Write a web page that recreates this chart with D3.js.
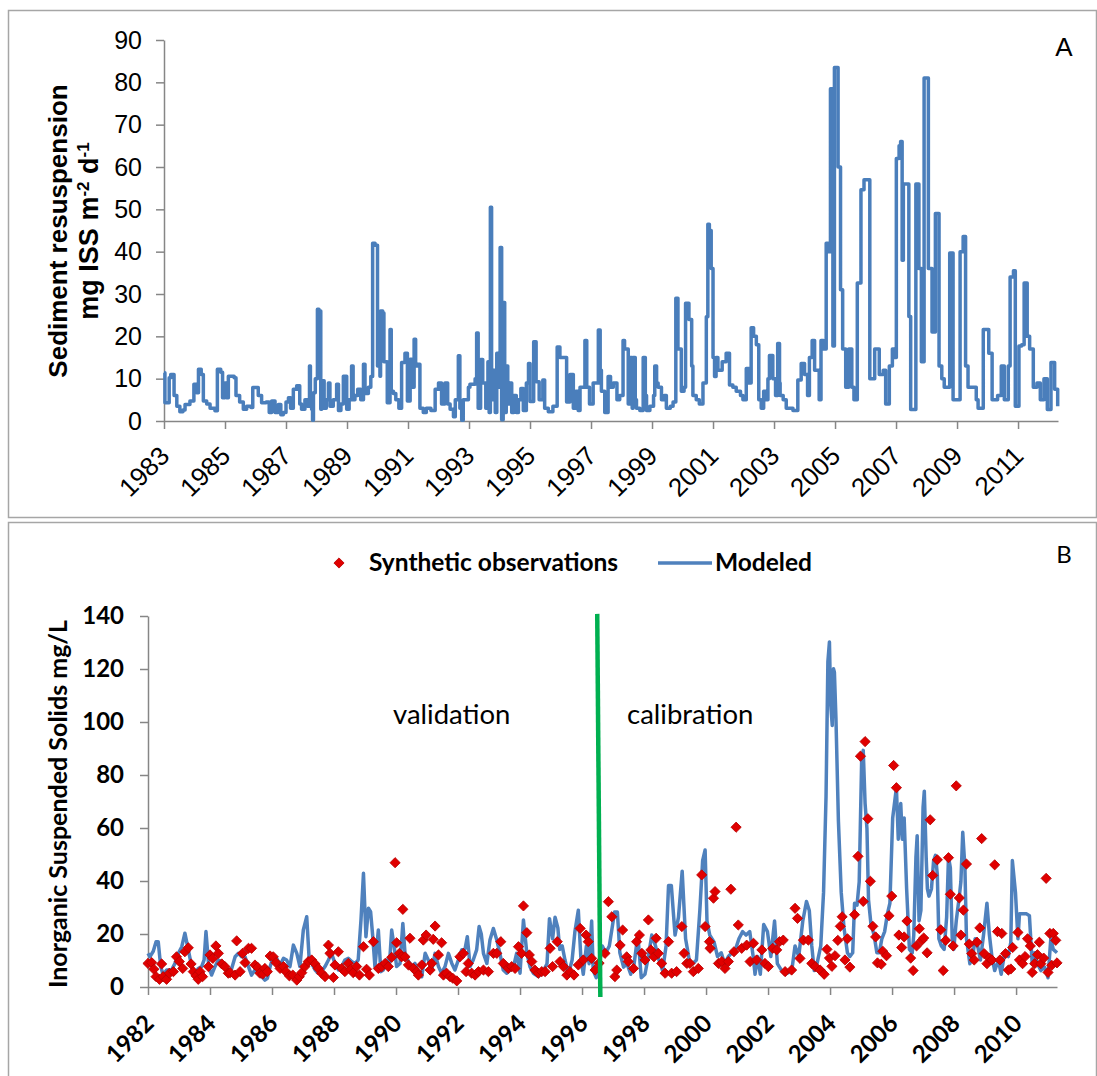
<!DOCTYPE html>
<html>
<head>
<meta charset="utf-8">
<script src="https://cdnjs.cloudflare.com/ajax/libs/d3/7.8.5/d3.min.js"></script>
<style>
  body { margin: 0; background: #fff; }
  svg { display: block; }
</style>
</head>
<body>
<svg id="chart" width="1097" height="1076"></svg>
<script>
// ---- panel A : sediment resuspension (step series, [year, value])
var resuspension = [
  [1983.00,11.4],[1983.03,4.3],[1983.17,10.2],[1983.22,11.0],[1983.33,6.0],[1983.42,3.5],[1983.52,2.2],[1983.62,2.6],
  [1983.69,3.9],[1983.85,4.7],[1983.98,8.7],[1984.07,6.7],[1984.13,12.2],[1984.22,11.0],[1984.29,4.7],[1984.40,4.0],
  [1984.51,3.0],[1984.67,2.4],[1984.75,12.2],[1984.86,11.5],[1984.92,5.5],[1985.00,9.0],[1985.05,5.5],[1985.11,10.6],
  [1985.30,10.2],[1985.36,6.0],[1985.48,4.5],[1985.60,2.8],[1985.71,3.5],[1985.85,3.2],[1985.91,7.9],[1986.09,6.0],
  [1986.20,4.3],[1986.35,4.5],[1986.45,2.0],[1986.53,4.7],[1986.64,2.0],[1986.75,3.9],[1986.83,1.5],[1986.91,2.0],
  [1987.00,4.5],[1987.08,5.5],[1987.15,3.0],[1987.24,7.5],[1987.35,8.3],[1987.45,4.0],[1987.51,2.8],[1987.62,5.0],
  [1987.70,3.5],[1987.77,13.0],[1987.80,6.0],[1987.84,2.8],[1987.87,0.2],[1987.90,6.7],[1987.96,10.0],[1988.03,26.4],
  [1988.08,26.0],[1988.14,2.8],[1988.17,9.5],[1988.25,3.0],[1988.32,5.0],[1988.39,9.0],[1988.44,3.5],[1988.55,5.0],
  [1988.66,8.7],[1988.72,2.5],[1988.80,4.0],[1988.88,10.6],[1988.99,2.8],[1989.07,5.0],[1989.15,13.0],[1989.20,5.0],
  [1989.26,6.0],[1989.35,7.5],[1989.45,5.0],[1989.54,13.4],[1989.59,6.5],[1989.70,8.0],[1989.78,10.5],[1989.84,42.0],
  [1989.92,41.5],[1990.00,13.0],[1990.08,10.6],[1990.10,26.0],[1990.17,25.5],[1990.21,14.0],[1990.32,4.3],[1990.41,21.6],
  [1990.45,7.0],[1990.52,6.5],[1990.60,5.0],[1990.70,3.0],[1990.79,13.8],[1990.90,16.0],[1990.98,4.7],[1991.07,14.6],
  [1991.13,8.0],[1991.20,19.3],[1991.25,13.0],[1991.31,13.4],[1991.39,3.0],[1991.50,2.0],[1991.60,3.0],[1991.75,2.5],
  [1991.89,7.5],[1992.00,9.0],[1992.10,4.0],[1992.21,9.0],[1992.30,4.0],[1992.38,2.8],[1992.49,1.0],[1992.55,5.0],
  [1992.65,15.4],[1992.70,3.0],[1992.76,0.2],[1992.81,5.0],[1992.98,8.0],[1993.03,8.7],[1993.20,10.0],[1993.25,20.8],
  [1993.30,3.0],[1993.38,14.5],[1993.45,9.0],[1993.55,3.0],[1993.62,14.0],[1993.66,2.0],[1993.70,50.5],[1993.74,5.0],
  [1993.80,12.0],[1993.86,2.0],[1993.91,16.0],[1993.96,8.0],[1994.02,41.0],[1994.07,0.3],[1994.12,28.0],[1994.17,2.0],
  [1994.22,13.0],[1994.27,4.0],[1994.33,9.0],[1994.40,2.0],[1994.47,6.0],[1994.55,2.0],[1994.62,5.0],[1994.70,7.7],
  [1994.78,2.5],[1994.88,9.0],[1994.95,13.6],[1995.00,4.6],[1995.12,18.7],[1995.20,9.3],[1995.30,5.0],[1995.42,9.7],
  [1995.48,3.0],[1995.60,2.2],[1995.75,3.5],[1995.89,17.5],[1995.98,15.0],[1996.20,4.5],[1996.31,11.0],[1996.42,3.0],
  [1996.50,7.0],[1996.58,2.5],[1996.64,8.0],[1996.80,19.0],[1996.86,8.0],[1996.95,4.0],[1997.07,9.0],[1997.24,21.5],
  [1997.30,12.0],[1997.34,7.0],[1997.45,2.0],[1997.56,10.5],[1997.64,8.0],[1997.73,9.0],[1997.85,5.0],[1997.94,6.0],
  [1998.05,19.0],[1998.10,17.0],[1998.22,4.0],[1998.27,15.0],[1998.35,3.0],[1998.38,15.0],[1998.45,5.0],[1998.49,3.0],
  [1998.60,2.5],[1998.71,15.0],[1998.78,6.0],[1998.82,2.5],[1998.93,3.5],[1999.05,6.0],[1999.09,13.0],[1999.15,9.0],
  [1999.20,8.0],[1999.31,5.0],[1999.40,6.0],[1999.47,3.0],[1999.60,3.5],[1999.69,4.5],[1999.78,29.0],[1999.85,17.0],
  [1999.96,7.0],[2000.05,8.0],[2000.10,27.8],[2000.21,24.0],[2000.30,13.0],[2000.34,6.0],[2000.45,5.0],[2000.55,4.0],
  [2000.67,9.0],[2000.78,24.6],[2000.83,46.5],[2000.88,45.0],[2000.94,36.0],[2001.00,15.0],[2001.05,10.5],[2001.10,15.0],
  [2001.16,12.0],[2001.30,14.0],[2001.43,16.0],[2001.54,8.5],[2001.65,8.0],[2001.76,7.0],[2001.90,6.0],[2001.98,5.0],
  [2002.09,12.4],[2002.18,9.0],[2002.25,22.0],[2002.33,20.0],[2002.42,18.0],[2002.50,5.0],[2002.58,3.0],[2002.66,7.0],
  [2002.74,5.0],[2002.80,10.0],[2002.85,15.5],[2002.96,10.0],[2003.05,6.0],[2003.12,18.3],[2003.18,9.0],[2003.20,6.0],
  [2003.30,5.0],[2003.40,3.0],[2003.62,2.5],[2003.78,9.7],[2003.89,13.6],[2004.00,11.0],[2004.10,6.0],[2004.16,15.0],
  [2004.25,19.0],[2004.33,12.0],[2004.48,5.0],[2004.54,19.0],[2004.62,17.0],[2004.71,42.0],[2004.78,40.0],[2004.85,78.5],
  [2004.93,17.7],[2004.98,83.5],[2005.10,60.0],[2005.18,31.0],[2005.25,17.0],[2005.35,8.0],[2005.45,17.0],[2005.55,8.0],
  [2005.62,5.0],[2005.73,32.6],[2005.85,54.6],[2005.95,57.0],[2006.14,10.0],[2006.30,17.0],[2006.45,11.0],[2006.58,12.0],
  [2006.66,4.0],[2006.78,13.0],[2006.88,17.0],[2006.95,15.0],[2007.01,62.0],[2007.10,65.0],[2007.15,66.0],[2007.20,38.0],
  [2007.24,56.0],[2007.42,24.7],[2007.48,2.7],[2007.54,2.7],[2007.65,56.0],[2007.75,36.0],[2007.83,14.0],[2007.92,81.0],
  [2008.06,36.0],[2008.18,21.0],[2008.29,49.0],[2008.41,13.0],[2008.50,10.0],[2008.58,8.0],[2008.76,39.7],[2008.87,5.0],
  [2009.05,5.0],[2009.10,40.0],[2009.20,43.6],[2009.28,13.0],[2009.36,8.0],[2009.45,8.0],[2009.63,5.0],[2009.69,3.0],
  [2009.86,21.6],[2010.04,16.0],[2010.15,5.0],[2010.33,6.0],[2010.45,13.0],[2010.55,5.0],[2010.68,13.0],[2010.74,34.0],
  [2010.85,35.5],[2010.91,3.5],[2011.03,17.7],[2011.12,18.0],[2011.20,32.6],[2011.30,20.0],[2011.38,17.0],[2011.50,8.0],
  [2011.62,9.0],[2011.73,5.0],[2011.85,10.0],[2011.96,2.7],[2012.08,13.8],[2012.20,7.5],[2012.30,3.5]
];
var yearsA = [1983,1985,1987,1989,1991,1993,1995,1997,1999,2001,2003,2005,2007,2009,2011];
var ticksA = [0,10,20,30,40,50,60,70,80,90];

// ---- panel B : modeled ISS ([year, value])
var modeled = [
  [1982.00,12.7],[1982.06,11.4],[1982.17,13.5],[1982.26,17.1],[1982.33,17.1],[1982.41,7.7],[1982.49,4.5],[1982.60,6.4],
  [1982.76,6.4],[1982.87,8.9],[1982.98,12.7],[1983.09,15.2],[1983.19,20.3],[1983.30,14.0],[1983.41,7.7],[1983.52,5.2],
  [1983.62,7.0],[1983.73,7.7],[1983.81,10.2],[1983.87,20.9],[1983.96,7.7],[1984.05,4.5],[1984.16,7.7],[1984.27,10.2],
  [1984.38,9.6],[1984.48,7.7],[1984.59,6.4],[1984.70,7.0],[1984.81,11.4],[1984.91,12.7],[1985.02,11.4],[1985.13,11.4],
  [1985.24,7.7],[1985.34,4.5],[1985.45,6.4],[1985.56,5.8],[1985.67,3.9],[1985.77,2.6],[1985.85,3.3],[1985.94,7.7],
  [1986.04,11.4],[1986.15,10.8],[1986.26,8.3],[1986.37,10.8],[1986.47,10.2],[1986.58,7.7],[1986.69,15.8],[1986.80,12.7],
  [1986.90,7.7],[1987.01,21.5],[1987.12,26.5],[1987.20,10.2],[1987.28,8.9],[1987.39,6.4],[1987.49,5.2],[1987.60,5.8],
  [1987.71,7.7],[1987.82,10.2],[1987.92,12.7],[1988.03,8.9],[1988.14,6.4],[1988.25,7.7],[1988.35,10.2],[1988.46,10.8],
  [1988.57,9.6],[1988.68,8.9],[1988.78,10.2],[1988.87,25.3],[1988.95,42.9],[1989.03,19.0],[1989.11,29.7],[1989.18,28.4],
  [1989.25,19.0],[1989.32,7.7],[1989.43,21.5],[1989.51,5.8],[1989.59,6.4],[1989.70,10.2],[1989.78,7.0],[1989.86,21.5],
  [1989.94,15.2],[1990.02,7.7],[1990.13,8.9],[1990.22,24.0],[1990.29,12.7],[1990.40,9.6],[1990.51,7.7],[1990.61,8.9],
  [1990.72,5.2],[1990.83,3.9],[1990.94,12.7],[1991.04,10.2],[1991.15,6.4],[1991.26,12.7],[1991.37,7.7],[1991.47,5.2],
  [1991.58,7.7],[1991.69,12.7],[1991.80,8.9],[1991.90,6.4],[1992.01,10.2],[1992.12,14.0],[1992.23,14.6],[1992.30,19.0],
  [1992.39,7.7],[1992.49,10.2],[1992.60,14.0],[1992.68,22.8],[1992.75,20.0],[1992.82,12.7],[1992.93,8.9],[1993.03,17.7],
  [1993.14,22.1],[1993.25,17.7],[1993.35,12.7],[1993.46,6.4],[1993.57,5.2],[1993.68,6.4],[1993.79,7.7],[1993.89,12.7],
  [1994.00,5.2],[1994.11,25.3],[1994.22,12.7],[1994.32,7.7],[1994.43,5.2],[1994.59,3.9],[1994.76,6.2],[1994.87,8.8],
  [1994.95,25.8],[1995.05,18.2],[1995.13,26.3],[1995.22,22.3],[1995.28,14.2],[1995.36,15.5],[1995.45,10.2],[1995.56,4.8],
  [1995.68,10.2],[1995.77,20.9],[1995.88,29.0],[1995.96,11.5],[1996.04,4.8],[1996.14,15.5],[1996.23,8.8],[1996.31,24.9],
  [1996.36,6.2],[1996.46,3.5],[1996.54,7.5],[1996.65,15.5],[1996.77,12.9],[1996.88,15.5],[1997.05,28.3],[1997.14,28.3],
  [1997.22,12.9],[1997.34,7.5],[1997.45,8.8],[1997.57,4.8],[1997.68,8.8],[1997.80,19.6],[1997.91,3.5],[1998.03,4.8],
  [1998.14,11.5],[1998.25,19.6],[1998.37,15.5],[1998.48,10.2],[1998.60,6.2],[1998.71,15.5],[1998.79,38.3],[1998.88,38.3],
  [1999.00,19.6],[1999.11,26.3],[1999.23,43.7],[1999.34,18.2],[1999.46,10.2],[1999.57,8.8],[1999.69,10.2],[1999.80,28.9],
  [1999.89,47.7],[1999.97,51.7],[2000.03,24.9],[2000.12,19.6],[2000.26,16.9],[2000.37,11.5],[2000.49,12.9],[2000.60,8.8],
  [2000.72,11.5],[2000.83,12.9],[2000.95,14.2],[2001.06,18.2],[2001.18,20.9],[2001.29,19.6],[2001.41,20.9],[2001.52,11.5],
  [2001.58,4.8],[2001.66,11.5],[2001.75,4.8],[2001.86,23.6],[2001.98,20.9],[2002.09,11.5],[2002.21,24.9],[2002.30,8.8],
  [2002.44,6.2],[2002.55,4.8],[2002.67,5.5],[2002.78,7.5],[2002.87,15.5],[2002.99,11.5],[2003.12,24.9],[2003.24,32.3],
  [2003.33,28.9],[2003.41,15.5],[2003.49,6.2],[2003.58,8.8],[2003.70,15.5],[2003.79,35.7],[2003.87,71.8],[2003.93,122.8],
  [2003.98,130.2],[2004.02,106.7],[2004.07,98.7],[2004.11,120.1],[2004.14,118.8],[2004.19,101.3],[2004.27,62.5],[2004.36,35.7],
  [2004.45,22.3],[2004.56,12.9],[2004.64,11.5],[2004.73,12.9],[2004.79,31.6],[2004.87,30.9],[2004.94,39.7],[2005.02,86.0],
  [2005.07,89.3],[2005.13,69.2],[2005.19,59.8],[2005.24,33.0],[2005.32,23.6],[2005.42,19.6],[2005.51,12.9],[2005.59,12.9],
  [2005.67,18.2],[2005.76,20.9],[2005.85,27.6],[2005.93,31.6],[2006.02,63.8],[2006.14,75.2],[2006.20,55.8],[2006.28,69.2],
  [2006.33,55.8],[2006.39,63.8],[2006.47,37.0],[2006.56,14.2],[2006.65,12.9],[2006.70,19.6],[2006.77,49.0],[2006.81,57.1],
  [2006.87,25.0],[2006.93,28.9],[2007.00,67.8],[2007.04,73.9],[2007.10,49.0],[2007.14,37.0],[2007.19,34.3],[2007.27,37.0],
  [2007.34,47.7],[2007.40,49.7],[2007.46,42.4],[2007.51,18.2],[2007.59,15.5],[2007.68,14.2],[2007.76,26.3],[2007.82,49.0],
  [2007.88,45.0],[2007.94,18.2],[2007.99,14.2],[2008.07,24.9],[2008.17,34.3],[2008.22,39.7],[2008.28,58.4],[2008.35,45.0],
  [2008.40,18.2],[2008.51,8.8],[2008.60,11.5],[2008.68,18.2],[2008.76,15.5],[2008.85,10.2],[2008.95,19.6],[2009.06,31.6],
  [2009.14,19.6],[2009.22,11.5],[2009.31,6.2],[2009.43,10.2],[2009.52,4.8],[2009.63,12.9],[2009.75,11.5],[2009.83,16.9],
  [2009.88,47.7],[2009.98,35.7],[2010.06,18.2],[2010.11,27.6],[2010.23,27.6],[2010.34,27.6],[2010.43,26.9],[2010.52,8.8],
  [2010.60,12.9],[2010.69,8.8],[2010.80,6.2],[2010.92,7.5],[2011.03,3.5],[2011.12,18.2],[2011.20,14.2],[2011.32,12.9]
];

// ---- panel B : synthetic observations ([year, value])
var observations = [
  [1982.00,8.9],[1982.12,9.2],[1982.19,6.7],[1982.26,3.9],[1982.37,2.9],[1982.44,8.7],[1982.49,3.9],[1982.60,2.9],
  [1982.69,5.2],[1982.82,5.8],[1982.92,11.4],[1983.01,9.6],[1983.12,7.0],[1983.19,13.3],[1983.30,14.8],[1983.39,8.7],
  [1983.46,5.8],[1983.55,4.2],[1983.62,2.9],[1983.68,5.8],[1983.76,3.9],[1983.95,7.7],[1984.00,12.1],[1984.09,10.8],
  [1984.19,15.5],[1984.27,12.7],[1984.38,8.7],[1984.48,7.7],[1984.59,5.2],[1984.65,5.4],[1984.81,4.5],[1984.86,17.4],
  [1984.97,5.8],[1985.05,12.7],[1985.13,9.2],[1985.24,14.6],[1985.34,14.6],[1985.45,8.3],[1985.54,7.4],[1985.61,5.2],
  [1985.70,4.9],[1985.77,7.0],[1985.85,5.8],[1985.94,11.7],[1986.04,11.4],[1986.13,9.2],[1986.26,7.0],[1986.37,7.7],
  [1986.45,5.8],[1986.56,4.2],[1986.67,4.5],[1986.80,2.6],[1986.88,3.9],[1986.96,5.4],[1987.06,7.7],[1987.17,9.6],
  [1987.28,10.2],[1987.39,8.7],[1987.49,7.0],[1987.60,5.2],[1987.71,3.9],[1987.82,15.8],[1987.87,12.7],[1987.98,3.6],
  [1988.03,8.3],[1988.14,13.3],[1988.25,7.0],[1988.35,5.8],[1988.46,8.9],[1988.54,6.7],[1988.62,5.4],[1988.73,7.7],
  [1988.82,4.5],[1988.95,15.2],[1989.05,6.7],[1989.14,4.5],[1989.27,17.1],[1989.43,7.0],[1989.54,7.7],[1989.65,8.9],
  [1989.75,7.7],[1989.86,11.2],[1989.97,46.9],[1990.02,16.7],[1990.11,12.7],[1990.18,11.4],[1990.22,29.3],[1990.29,11.4],
  [1990.40,8.3],[1990.45,18.4],[1990.56,7.0],[1990.67,5.8],[1990.72,4.5],[1990.83,8.3],[1990.88,17.7],[1990.97,19.6],
  [1991.10,6.4],[1991.15,8.9],[1991.20,18.0],[1991.26,23.0],[1991.37,12.1],[1991.47,16.7],[1991.53,4.5],[1991.63,5.2],
  [1991.74,3.9],[1991.83,3.3],[1991.96,2.3],[1992.06,11.4],[1992.17,12.7],[1992.26,5.8],[1992.33,8.9],[1992.44,5.2],
  [1992.55,4.5],[1992.66,5.8],[1992.82,6.4],[1992.98,5.8],[1993.14,12.7],[1993.25,12.7],[1993.38,17.1],[1993.46,8.9],
  [1993.62,7.0],[1993.73,7.7],[1993.84,7.0],[1993.95,15.2],[1994.05,12.7],[1994.11,30.6],[1994.22,20.5],[1994.30,12.1],
  [1994.38,9.6],[1994.48,6.4],[1994.59,5.2],[1994.70,5.8],[1994.81,5.8],[1994.97,14.6],[1995.05,7.7],[1995.20,17.1],
  [1995.29,9.6],[1995.40,7.7],[1995.51,4.5],[1995.61,5.8],[1995.74,4.5],[1995.88,8.3],[1995.94,22.1],[1996.04,10.2],
  [1996.13,19.6],[1996.20,17.1],[1996.31,10.8],[1996.42,6.4],[1996.55,9.0],[1996.74,12.7],[1996.85,32.2],[1996.96,26.5],
  [1997.06,3.9],[1997.12,6.4],[1997.23,15.8],[1997.31,21.5],[1997.44,11.4],[1997.49,9.6],[1997.66,7.0],[1997.76,17.1],
  [1997.85,19.6],[1997.93,12.7],[1998.03,10.2],[1998.14,25.3],[1998.22,14.0],[1998.32,11.4],[1998.39,18.4],[1998.46,12.7],
  [1998.57,8.9],[1998.68,5.2],[1998.79,17.1],[1998.89,5.2],[1999.05,5.8],[1999.22,22.8],[1999.29,12.7],[1999.38,8.9],
  [1999.48,8.9],[1999.59,5.8],[1999.75,7.0],[1999.86,42.3],[1999.97,22.8],[2000.11,17.1],[2000.13,14.6],[2000.24,33.5],
  [2000.29,36.0],[2000.40,8.9],[2000.51,9.6],[2000.61,7.0],[2000.72,9.6],[2000.80,36.9],[2000.90,13.3],[2000.97,60.3],
  [2001.04,23.4],[2001.15,14.6],[2001.31,15.8],[2001.42,9.6],[2001.53,16.5],[2001.63,10.2],[2001.80,14.0],[2001.90,8.9],
  [2002.01,7.7],[2002.15,14.6],[2002.28,14.0],[2002.37,17.1],[2002.49,17.7],[2002.55,5.8],[2002.76,6.4],[2002.87,29.7],
  [2002.95,25.9],[2003.03,10.8],[2003.14,17.7],[2003.30,17.7],[2003.41,8.9],[2003.52,7.7],[2003.68,6.4],[2003.81,4.8],
  [2003.90,14.2],[2003.98,10.9],[2004.06,7.8],[2004.16,11.8],[2004.25,17.6],[2004.33,22.9],[2004.39,26.5],[2004.48,10.2],
  [2004.56,18.2],[2004.64,7.5],[2004.79,27.3],[2004.90,49.3],[2004.98,87.1],[2005.07,32.3],[2005.13,92.6],[2005.22,63.5],
  [2005.30,39.9],[2005.38,22.9],[2005.47,18.9],[2005.53,9.1],[2005.65,8.6],[2005.70,13.5],[2005.82,11.8],[2005.90,26.9],
  [2005.99,34.3],[2006.05,83.6],[2006.14,75.2],[2006.22,19.6],[2006.31,14.9],[2006.39,18.9],[2006.48,24.9],[2006.60,10.9],
  [2006.68,6.2],[2006.79,15.5],[2006.88,22.0],[2006.96,17.6],[2007.02,18.5],[2007.13,12.9],[2007.23,63.1],[2007.31,42.1],
  [2007.46,48.0],[2007.57,21.6],[2007.65,6.2],[2007.73,17.6],[2007.82,48.8],[2007.88,35.0],[2007.97,15.5],[2008.07,75.9],
  [2008.17,33.6],[2008.22,19.6],[2008.30,29.0],[2008.40,46.4],[2008.49,16.2],[2008.57,12.6],[2008.65,10.2],[2008.74,16.9],
  [2008.83,22.3],[2008.89,56.0],[2008.97,12.6],[2009.06,8.8],[2009.14,10.9],[2009.22,10.2],[2009.31,46.1],[2009.40,20.9],
  [2009.48,10.2],[2009.54,20.2],[2009.66,12.6],[2009.75,6.4],[2009.83,6.8],[2009.89,14.9],[2010.06,20.6],[2010.11,10.2],
  [2010.21,8.8],[2010.29,11.5],[2010.37,18.2],[2010.46,15.5],[2010.52,5.5],[2010.60,8.8],[2010.69,12.2],[2010.75,16.9],
  [2010.80,8.8],[2010.89,10.9],[2010.97,41.0],[2011.03,5.5],[2011.09,20.2],[2011.15,8.2],[2011.20,20.2],[2011.28,17.6],
  [2011.32,9.1]
];
var calibrationLine = [[1996.49, 140.8], [1996.59, -3.8]];
var yearsB = [1982,1984,1986,1988,1990,1992,1994,1996,1998,2000,2002,2004,2006,2008,2010];
var ticksB = [0,20,40,60,80,100,120,140];

var svg = d3.select("#chart");
var axisGray = "#868686";
var lineBlue = "#4A7EBB";

// frames
svg.append("rect").attr("x", 8.5).attr("y", 10.5).attr("width", 1088).attr("height", 507)
  .attr("fill", "none").attr("stroke", "#a6a6a6").attr("stroke-width", 1.5);
svg.append("rect").attr("x", 8.5).attr("y", 522.5).attr("width", 1088).attr("height", 600)
  .attr("fill", "none").attr("stroke", "#a6a6a6").attr("stroke-width", 1.5);

function styleAxis(g) {
  g.selectAll("path.domain").attr("stroke", axisGray).attr("stroke-width", 1.5);
  g.selectAll(".tick line").attr("stroke", axisGray).attr("stroke-width", 1.5);
}

// ================= panel A
var xA = d3.scaleLinear().domain([1983, 2012.31]).range([164, 1058]);
var yA = d3.scaleLinear().domain([0, 90]).range([421, 40]);
var fontA = "'Liberation Sans', Arial, sans-serif";

var gA = svg.append("g").attr("font-family", fontA);

gA.append("g").attr("transform", "translate(0," + yA(0) + ")")
  .call(d3.axisBottom(xA).tickValues(yearsA).tickFormat(d3.format("d")).tickSize(8).tickSizeOuter(0))
  .call(styleAxis)
  .call(function(g) {
    g.selectAll("text").attr("x", 0).attr("y", 0).attr("dy", "0.35em")
      .attr("text-anchor", "end").attr("transform", "translate(0,30) rotate(-45)")
      .attr("font-size", 26).attr("fill", "#000").attr("font-family", fontA);
  });

gA.append("g").attr("transform", "translate(" + xA(1983) + ",0)")
  .call(d3.axisLeft(yA).tickValues(ticksA).tickSize(8).tickSizeOuter(0).tickPadding(14))
  .call(styleAxis)
  .call(function(g) {
    g.selectAll("text").attr("font-size", 25).attr("fill", "#000").attr("font-family", fontA);
  });

var lineA = d3.line().x(function(d) { return xA(d[0]); }).y(function(d) { return yA(d[1]); })
  .curve(d3.curveStepAfter);
gA.append("path").datum(resuspension).attr("d", lineA)
  .attr("fill", "none").attr("stroke", lineBlue).attr("stroke-width", 3.5).attr("stroke-linejoin", "round");

var titleA = gA.append("g").attr("font-weight", "bold").attr("font-size", 26).attr("text-anchor", "middle");
titleA.append("text").attr("transform", "translate(67,231) rotate(-90)").text("Sediment resuspension");
var t2 = titleA.append("text").attr("transform", "translate(98,231) rotate(-90)").attr("font-size", 27);
t2.append("tspan").text("mg ISS m");
t2.append("tspan").attr("baseline-shift", "super").attr("font-size", 17).text("-2");
t2.append("tspan").text(" d");
t2.append("tspan").attr("baseline-shift", "super").attr("font-size", 17).text("-1");

gA.append("text").attr("x", 1064).attr("y", 56).attr("text-anchor", "middle")
  .attr("font-size", 26).text("A");

// ================= panel B
var xB = d3.scaleLinear().domain([1982, 2011.32]).range([148, 1057]);
var yB = d3.scaleLinear().domain([0, 140]).range([987, 616]);
var fontB = "Lato, 'Open Sans', sans-serif";

var gB = svg.append("g").attr("font-family", fontB);

gB.append("g").attr("transform", "translate(0," + yB(0) + ")")
  .call(d3.axisBottom(xB).tickValues(yearsB).tickFormat(d3.format("d")).tickSize(8).tickSizeOuter(0))
  .call(styleAxis)
  .call(function(g) {
    g.selectAll("text").attr("x", 0).attr("y", 0).attr("dy", "0.35em")
      .attr("text-anchor", "end").attr("transform", "translate(1,32) rotate(-45)")
      .attr("font-size", 24).attr("font-weight", "bold").attr("fill", "#000").attr("font-family", fontB);
  });

gB.append("g").attr("transform", "translate(" + xB(1982) + ",0)")
  .call(d3.axisLeft(yB).tickValues(ticksB).tickSize(8).tickSizeOuter(0).tickPadding(16))
  .call(styleAxis)
  .call(function(g) {
    g.selectAll("text").attr("font-size", 24).attr("font-weight", "bold").attr("fill", "#000")
      .attr("font-family", fontB);
  });

var lineB = d3.line().x(function(d) { return xB(d[0]); }).y(function(d) { return yB(d[1]); });
gB.append("path").datum(modeled).attr("d", lineB)
  .attr("fill", "none").attr("stroke", "#4F81BD").attr("stroke-width", 3.5).attr("stroke-linejoin", "round");

var diamond = d3.symbol().type(d3.symbolSquare).size(52);
gB.append("g").selectAll("path").data(observations).enter().append("path")
  .attr("d", diamond)
  .attr("transform", function(d) { return "translate(" + xB(d[0]) + "," + yB(d[1]) + ") rotate(45)"; })
  .attr("fill", "#E00000").attr("stroke", "#B80000").attr("stroke-width", 0.8);

gB.append("line")
  .attr("x1", xB(calibrationLine[0][0])).attr("y1", yB(calibrationLine[0][1]))
  .attr("x2", xB(calibrationLine[1][0])).attr("y2", yB(calibrationLine[1][1]))
  .attr("stroke", "#00B050").attr("stroke-width", 4.5);

gB.append("text").attr("x", 393).attr("y", 724).attr("font-size", 27.5).text("validation");
gB.append("text").attr("x", 627).attr("y", 724).attr("font-size", 27.5).text("calibration");

// legend
var leg = gB.append("g").attr("font-weight", "bold").attr("font-size", 24.5);
leg.append("path").attr("d", diamond).attr("transform", "translate(339,563) rotate(45)")
  .attr("fill", "#E00000").attr("stroke", "#B80000").attr("stroke-width", 0.8);
leg.append("text").attr("x", 369).attr("y", 571).text("Synthetic observations");
leg.append("line").attr("x1", 658).attr("x2", 712).attr("y1", 563).attr("y2", 563)
  .attr("stroke", "#4F81BD").attr("stroke-width", 3.5);
leg.append("text").attr("x", 715).attr("y", 571).text("Modeled");

gB.append("text").attr("x", 1064).attr("y", 563).attr("text-anchor", "middle")
  .attr("font-size", 24).text("B");

gB.append("text").attr("transform", "translate(67,804) rotate(-90)")
  .attr("text-anchor", "middle").attr("font-weight", "bold").attr("font-size", 25)
  .text("Inorganic Suspended Solids mg/L");
</script>
</body>
</html>
